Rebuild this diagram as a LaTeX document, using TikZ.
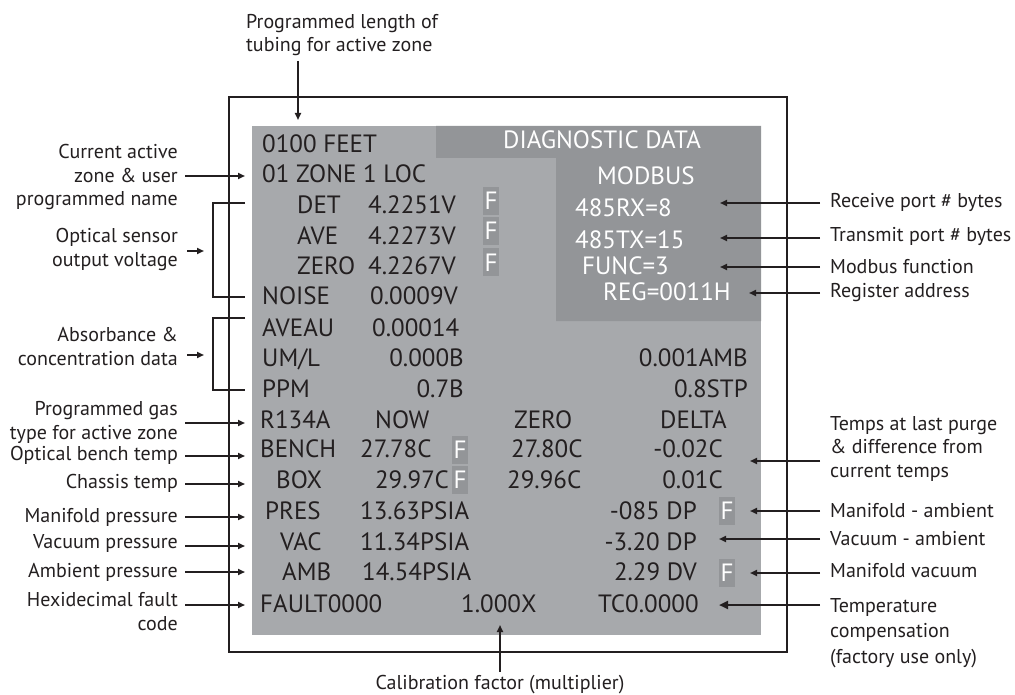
\documentclass[tikz,border=0pt]{standalone}
\usepackage{fontspec}
\setmainfont{PT Sans}
\usetikzlibrary{arrows.meta}
\definecolor{scr}{HTML}{A7A9AC}
\definecolor{scrd}{HTML}{939598}
\definecolor{ink}{HTML}{231F20}
\tikzset{
  lab/.style={font=\fontsize{20}{23.5}\selectfont, text=ink, inner sep=0},
  labl/.style={lab, anchor=base east, align=right},
  labr/.style={lab, anchor=base west, align=left},
  st/.style={font=\fontsize{25}{25}\selectfont, text=ink, inner sep=0, anchor=base west},
  str/.style={st, anchor=base east},
  wt/.style={st, text=white},
  fb/.style={fill=scrd, minimum width=16pt, minimum height=28pt, inner sep=0, text=white, font=\fontsize{25}{25}\selectfont},
  arr/.style={line width=1.7pt, draw=ink, -{Triangle[length=7pt,width=6pt]}},
  arrb/.style={line width=2.2pt, draw=ink, -{Triangle[length=9pt,width=8pt]}},
  brk/.style={line width=2pt, draw=ink},
  frame/.style={line width=2.7pt, draw=ink}
}
\begin{document}
\begin{tikzpicture}[x=1pt,y=-1pt]
\useasboundingbox (0,0) rectangle (1015,695);
% screen
\fill[scr] (252,126) rectangle (761,635);
\fill[scrd] (436,126) -- (761,126) -- (761,321) -- (556,321) -- (556,158) -- (436,158) -- cycle;
\draw[frame] (229,97) rectangle (787,652);

% screen text
\node[wt] (hdr) at (503,149) {DIAGNOSTIC DATA};
\node[wt] (mb) at (597,185) {MODBUS};
\node[wt] (rx) at (575,217) {485RX=8};
\node[wt] (tx) at (575,248) {485TX=15};
\node[wt] (fn) at (582,274) {FUNC=3};
\node[wt] (rg) at (603,300) {REG=0011H};

\node[st] (feet) at (262,153) {0100 FEET};
\node[st] (zone) at (262,183) {01 ZONE 1 LOC};
\node[st] (det) at (297,214) {DET};
\node[st] (detv) at (368,214) {4.2251V};
\node[st] (ave) at (297,244) {AVE};
\node[st] (avev) at (368,244) {4.2273V};
\node[st] (zer) at (297,275) {ZERO};
\node[st] (zerv) at (368,275) {4.2267V};
\node[fb] (f1) at (491,201) {F};
\node[fb] (f2) at (491,231) {F};
\node[fb] (f3) at (491,262.5) {F};
\node[st] (noi) at (262,305) {NOISE};
\node[st] (noiv) at (370,305) {0.0009V};
\node[st] (aveau) at (262,336) {AVEAU};
\node[st] (aveauv) at (372,336) {0.00014};
\node[st] (uml) at (262,366) {UM/L};
\node[str] (umlv) at (464,366) {0.000B};
\node[str] (umla) at (748,366) {0.001AMB};
\node[st] (ppm) at (262,397) {PPM};
\node[str] (ppmv) at (464,397) {0.7B};
\node[str] (ppms) at (748,397) {0.8STP};
\node[st] (gas) at (260,428) {R134A};
\node[st] (now) at (375,428) {NOW};
\node[st] (zhd) at (514,428) {ZERO};
\node[st] (dhd) at (660,428) {DELTA};
\node[st] (bench) at (260,457) {BENCH};
\node[st] (benchn) at (360,457) {27.78C};
\node[fb] (f4) at (460,449.5) {F};
\node[st] (benchz) at (511,457) {27.80C};
\node[str] (benchd) at (723,457) {-0.02C};
\node[st] (box) at (276,488) {BOX};
\node[str] (boxn) at (449,488) {29.97C};
\node[fb] (f5) at (460,480) {F};
\node[st] (boxz) at (507,488) {29.96C};
\node[str] (boxd) at (723,488) {0.01C};
\node[st] (pres) at (265,519) {PRES};
\node[st] (presv) at (360,519) {13.63PSIA};
\node[str] (presd) at (697,519) {-085 DP};
\node[fb] (f6) at (727,510.5) {F};
\node[st] (vac) at (280,550) {VAC};
\node[st] (vacv) at (360,550) {11.34PSIA};
\node[str] (vacd) at (697,550) {-3.20 DP};
\node[st] (amb) at (282,580) {AMB};
\node[st] (ambv) at (362,580) {14.54PSIA};
\node[str] (ambd) at (697,580) {2.29 DV};
\node[fb] (f7) at (727,572.5) {F};
\node[st] (fault) at (260,612) {FAULT0000};
\node[st] (cal) at (461,612) {1.000X};
\node[st] (tc) at (598,612) {TC0.0000};

% top and bottom labels (base anchor = baseline of last line)
\node[labr] (toplab) at (246,52) {Programmed length of\\tubing for active zone};
\coordinate (topA) at (298,61);
\coordinate (topB) at (298,120);
\draw[arr] (topA) -- (topB);
\node[lab, anchor=base] (botlab) at (500,689) {Calibration factor (multiplier)};
\coordinate (calT) at (500,625);
\draw[arr] (botlab.north -| calT) ++(0,-3) -- (calT);

% left labels
\node[labl] (l1) at (178,206) {Current active\\zone \& user\\programmed name};
\node[labl] (l2) at (178,266) {Optical sensor\\output voltage};
\node[labl] (l3) at (178,365) {Absorbance \&\\concentration data};
\node[labl] (l4) at (178,439) {Programmed gas\\type for active zone};
\node[labl] (l5) at (178,460) {Optical bench temp};
\node[labl] (l6) at (178,488) {Chassis temp};
\node[labl] (l7) at (178,522) {Manifold pressure};
\node[labl] (l8) at (178,548) {Vacuum pressure};
\node[labl] (l9) at (178,577) {Ambient pressure};
\node[labl] (l10) at (178,630) {Hexidecimal fault\\code};

\coordinate (c1) at (245,176);
\coordinate (c4) at (245,423);
\coordinate (c5) at (245,456);
\coordinate (c6) at (245,484);
\coordinate (c7) at (245,517);
\coordinate (c8) at (245,546);
\coordinate (c9) at (245,572);
\coordinate (c10) at (245,605);
\foreach \i in {1,4,5,6,7,8,9,10}{
  \draw[arr] ([xshift=7pt]l\i.east |- c\i) -- (c\i);
}
% brackets
\coordinate (b1t) at (245,203);
\coordinate (b1b) at (245,297);
\coordinate (b2t) at (245,318);
\coordinate (b2b) at (245,390);
\draw[brk] (b1t) -- ++(-32,0) |- (b1b);
\draw[brk] (b2t) -- ++(-32,0) |- (b2b);
\coordinate (c2) at (204,251);
\coordinate (c3) at (204,355);
\draw[arr] ([xshift=9pt]l2.east |- c2) -- (c2);
\draw[arr] ([xshift=9pt]l3.east |- c3) -- (c3);

% right labels
\node[labr] (r1) at (830,208) {Receive port \# bytes};
\node[labr] (r2) at (830,242) {Transmit port \# bytes};
\node[labr] (r3) at (830,273) {Modbus function};
\node[labr] (r4) at (830,298) {Register address};
\node[labr] (r5) at (830,477) {Temps at last purge\\\& difference from\\current temps};
\node[labr] (r6) at (830,517) {Manifold - ambient};
\node[labr] (r7) at (830,545) {Vacuum - ambient};
\node[labr] (r8) at (830,577) {Manifold vacuum};
\node[lab, anchor=base west, align=left, font=\fontsize{20}{25.5}\selectfont] (r9) at (830,663) {Temperature\\compensation\\(factory use only)};

\coordinate (d1) at (720,203);
\coordinate (d2) at (720,238);
\coordinate (d3) at (720,267);
\coordinate (d4) at (749,293);
\coordinate (d5) at (750,461);
\coordinate (d6) at (750,511);
\coordinate (d7) at (719,539);
\coordinate (d8) at (750,573);
\coordinate (d9) at (719,605);
\foreach \i in {1,...,8}{
  \draw[arr] ([xshift=-10pt]r\i.west |- d\i) -- (d\i);
}
\draw[arrb] ([xshift=-10pt]r9.west |- d9) -- (d9);
\end{tikzpicture}
\end{document}
